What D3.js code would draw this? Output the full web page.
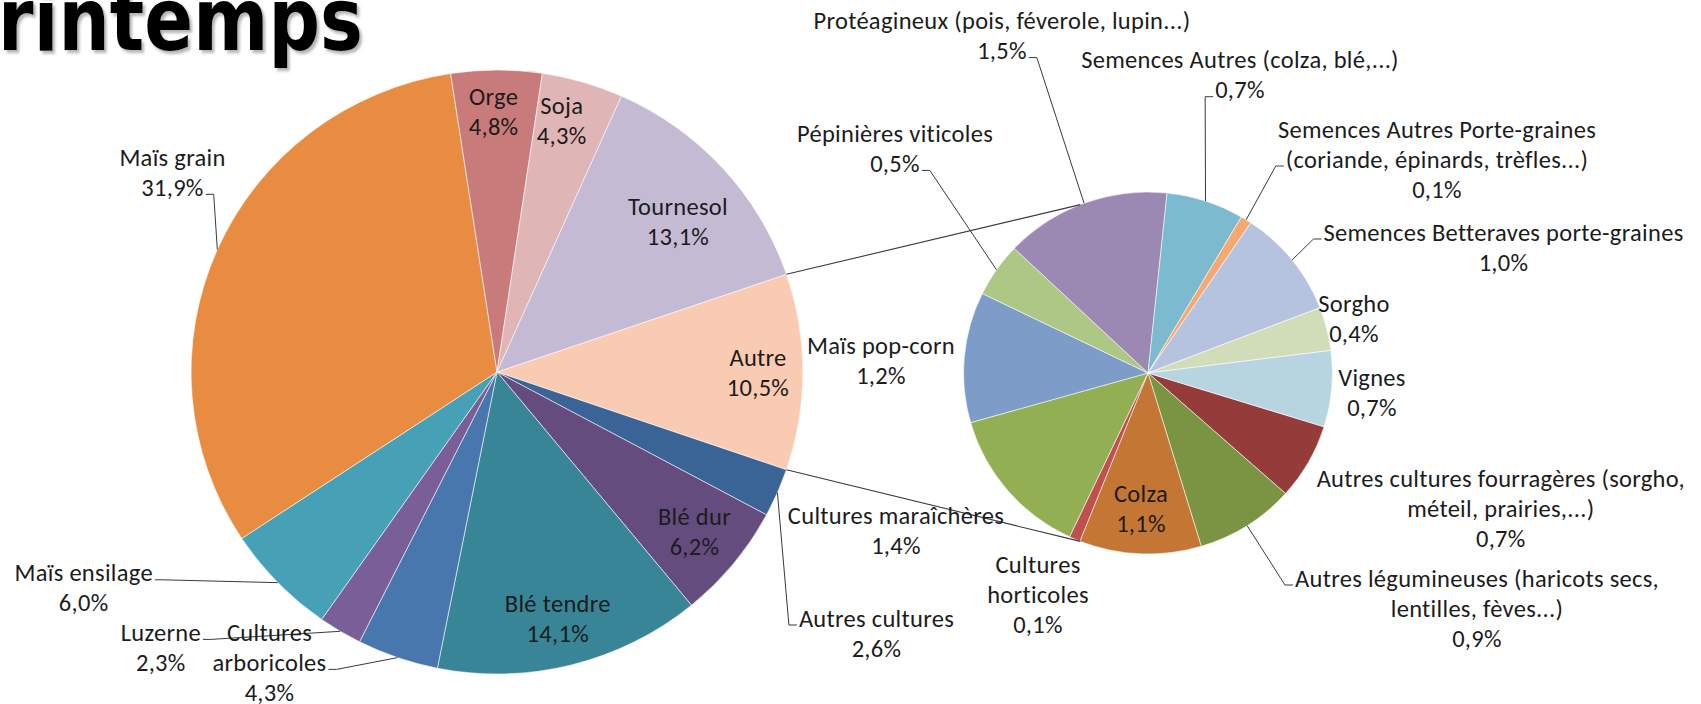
<!DOCTYPE html>
<html>
<head>
<meta charset="utf-8">
<script src="https://cdn.jsdelivr.net/npm/d3@7"></script>
<style>
  html, body { margin: 0; padding: 0; background: #ffffff; overflow: hidden; }
  svg { display: block; }
  .lbl { font-family: Carlito, Lato, "Open Sans", sans-serif; font-size: 24.5px; letter-spacing: 0.3px; fill: #1c1c1c; }
  .title { font-family: "DejaVu Sans", Verdana, sans-serif; font-weight: bold; font-size: 88px; fill: #000; }
</style>
</head>
<body>
<svg id="chart" width="1701" height="704"></svg>
<script>
// Main pie: categories in clockwise order, starting with the grouped "Autre" slice (% of area)
const mainCategories = ["Autre", "Autres cultures", "Blé dur", "Blé tendre", "Cultures\narboricoles",
  "Luzerne", "Maïs ensilage", "Maïs grain", "Orge", "Soja", "Tournesol"];
const mainValues = [10.5, 2.6, 6.2, 14.1, 4.3, 2.3, 6.0, 31.9, 4.8, 4.3, 13.1];
const mainColors = ["#F9CBB2", "#3B6496", "#644C7F", "#388597", "#4877AE",
  "#7A5E98", "#46A1B7", "#E88C42", "#C97B7B", "#E0B5B5", "#C4BAD3"];

// Secondary pie: breakdown of "Autre"
const subCategories = ["Autres cultures fourragères (sorgho,\nméteil, prairies,...)",
  "Autres légumineuses (haricots secs,\nlentilles, fèves...)", "Colza", "Cultures\nhorticoles",
  "Cultures maraîchères", "Maïs pop-corn", "Pépinières viticoles",
  "Protéagineux (pois, féverole, lupin...)", "Semences Autres (colza, blé,...)",
  "Semences Autres Porte-graines\n(coriande, épinards, trèfles...)",
  "Semences Betteraves porte-graines", "Sorgho", "Vignes"];
const subValues = [0.7, 0.9, 1.1, 0.1, 1.4, 1.2, 0.5, 1.5, 0.7, 0.1, 1.0, 0.4, 0.7];
const subColors = ["#953C3B", "#7A9444", "#C47634", "#C0504D", "#93AF54", "#7E9CC8", "#ADC784",
  "#9B88B3", "#7CBACF", "#F6A872", "#B5C3DF", "#D1DDB8", "#B7D5E0"];

const titleText = "Printemps";

// ---- layout ----
const LINE = 30;
const mainPie = { cx: 497, cy: 372, r: 302, sx: 1.013 };
const subPie  = { cx: 1148, cy: 373, r: 181, sx: 1.019, start: 107.3 };
const connectorSpread = 21.5; // degrees from vertical where connectors meet the secondary pie

// label anchors relative to pie centres; leader: [side, row]
const mainLabelPos = [
  { dx: 261, dy: -15 }, { dx: 379.5, dy: 246, leader: ["l", 0] }, { dx: 197.5, dy: 144.4 },
  { dx: 60.8, dy: 231 }, { dx: -227.5, dy: 260.4, leader: ["r", 1] }, { dx: -336.2, dy: 260.4, leader: ["r", 0] },
  { dx: -413.3, dy: 200.8, leader: ["r", 0] }, { dx: -324.5, dy: -214.7, leader: ["r", 1] },
  { dx: -3.4, dy: -276 }, { dx: 64.7, dy: -267 }, { dx: 181, dy: -166 }
];
const subLabelPos = [
  { dx: 352.8, dy: 105.4 }, { dx: 329, dy: 205, leader: ["l", 0] }, { dx: -7, dy: 120.6 },
  { dx: -110, dy: 191 }, { dx: -252, dy: 142.3 }, { dx: -267, dy: -28 },
  { dx: -253, dy: -239.6, leader: ["r", 1] }, { dx: -146, dy: -352.4, leader: ["r", 1] },
  { dx: 92, dy: -313.3, leader: ["l", 1] }, { dx: 289, dy: -244, leader: ["l", 1] },
  { dx: 355.5, dy: -141, leader: ["l", 0] }, { dx: 206, dy: -69.3 }, { dx: 224, dy: 4.5 }
];

const fr = d3.formatLocale({ decimal: ",", thousands: " ", grouping: [3], currency: ["", " €"] });
const pct = v => fr.format(".1f")(v) + "%";
const rad = d => d * Math.PI / 180;

const svg = d3.select("#chart");

// drop shadow for the title
const defs = svg.append("defs");
const f = defs.append("filter").attr("id", "shadow").attr("x", "-10%").attr("y", "-10%")
  .attr("width", "130%").attr("height", "140%");
f.append("feDropShadow").attr("dx", 3).attr("dy", 3).attr("stdDeviation", 1.6)
  .attr("flood-color", "#777").attr("flood-opacity", 0.55);

svg.append("text").attr("class", "title")
  .attr("transform", "translate(363,50) scale(0.82,1)")
  .attr("text-anchor", "end")
  .attr("filter", "url(#shadow)").text(titleText);

// ---- pies ----
const mainTotal = d3.sum(mainValues);
const mainStart = Math.PI / 2 - Math.PI * mainValues[0] / mainTotal; // "Autre" centred on the right
const mainArcs = d3.pie().sort(null).value(d => d)
  .startAngle(mainStart).endAngle(mainStart + 2 * Math.PI)(mainValues);
const subArcs = d3.pie().sort(null).value(d => d)
  .startAngle(rad(subPie.start)).endAngle(rad(subPie.start) + 2 * Math.PI)(subValues);

function drawPie(p, arcs, colors) {
  const arc = d3.arc().innerRadius(0).outerRadius(p.r);
  svg.append("g")
    .attr("transform", `translate(${p.cx},${p.cy}) scale(${p.sx},1)`)
    .selectAll("path").data(arcs).join("path")
    .attr("d", arc)
    .attr("fill", (d, i) => colors[i])
    .attr("stroke", "#ffffff").attr("stroke-opacity", 0.7).attr("stroke-width", 0.8)
    .attr("vector-effect", "non-scaling-stroke");
}
drawPie(mainPie, mainArcs, mainColors);
drawPie(subPie, subArcs, subColors);

const edgePoint = (p, a) => [p.cx + p.r * p.sx * Math.sin(a), p.cy - p.r * Math.cos(a)];

// ---- connector lines between the "Autre" slice and the secondary pie ----
const autre = mainArcs[0];
const conn = svg.append("g").attr("fill", "none").attr("stroke", "#3a3a3a").attr("stroke-width", 1.1);
[[autre.startAngle, 360 - connectorSpread], [autre.endAngle, 180 + connectorSpread]].forEach(([a, b]) => {
  const p1 = edgePoint(mainPie, a), p2 = edgePoint(subPie, rad(b));
  conn.append("line").attr("x1", p1[0]).attr("y1", p1[1]).attr("x2", p2[0]).attr("y2", p2[1]);
});

// ---- labels and leader lines ----
const leaders = svg.append("g").attr("fill", "none").attr("stroke", "#3a3a3a").attr("stroke-width", 1);
const labels = svg.append("g");

function drawLabels(p, arcs, cats, vals, pos) {
  arcs.forEach((a, i) => {
    const lines = cats[i].split("\n").concat([pct(vals[i])]);
    const x = p.cx + pos[i].dx, y = p.cy + pos[i].dy;
    const nodes = lines.map((t, k) => labels.append("text").attr("class", "lbl")
      .attr("x", x).attr("y", y + k * LINE).attr("dy", "0.35em")
      .attr("text-anchor", "middle").text(t));
    if (pos[i].leader) {
      const [side, row] = pos[i].leader;
      const bb = nodes[row].node().getBBox();
      const ly = y + row * LINE + 7;
      const lx = side === "l" ? bb.x - 2 : bb.x + bb.width + 2;
      const sx = side === "l" ? lx - 8 : lx + 8;
      const end = edgePoint(p, (a.startAngle + a.endAngle) / 2);
      leaders.append("polyline").attr("points", [[lx, ly], [sx, ly], end].map(q => q.join(",")).join(" "));
    }
  });
}
drawLabels(mainPie, mainArcs, mainCategories, mainValues, mainLabelPos);
drawLabels(subPie, subArcs, subCategories, subValues, subLabelPos);
</script>
</body>
</html>
